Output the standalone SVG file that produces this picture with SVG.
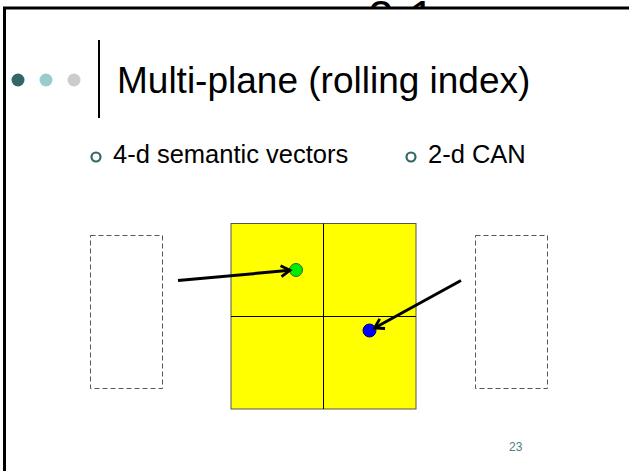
<svg xmlns="http://www.w3.org/2000/svg" width="629" height="471" viewBox="0 0 629 471">
<style>
text{font-family:"Liberation Sans",Arial,sans-serif;}
.dash{fill:none;stroke:#555;stroke-width:1;stroke-dasharray:5,3;}
.arrow{stroke:#000;stroke-width:3;fill:none;marker-end:url(#ah);}
.ring{fill:none;stroke:#336666;stroke-width:2.2;}
</style>
<defs>
<marker id="ah" markerWidth="14" markerHeight="14" refX="11" refY="7" orient="auto" markerUnits="userSpaceOnUse" viewBox="0 0 14 14">
<path d="M2,1.5 L11,7 L2,12.5" fill="none" stroke="#000" stroke-width="2.8"/>
</marker>
</defs>
<rect width="629" height="471" fill="#fff"/>
<text x="368" y="33" font-size="46">2-1</text>
<rect x="4.5" y="8" width="700" height="500" fill="#fff" stroke="#000" stroke-width="3"/>
<g id="header">
<circle cx="18" cy="80" r="6.5" fill="#336666"/>
<circle cx="46" cy="80" r="6.5" fill="#99cccc"/>
<circle cx="74" cy="80" r="6.5" fill="#cccccc"/>
<line x1="99" y1="40" x2="99" y2="118" stroke="#000" stroke-width="2"/>
<text x="117" y="93" font-size="37">Multi-plane (rolling index)</text>
</g>
<g id="bullet1">
<circle cx="96" cy="157" r="4.5" class="ring"/>
<text x="113" y="163" font-size="25.5">4-d semantic vectors</text>
</g>
<g id="bullet2">
<circle cx="411" cy="157" r="4.5" class="ring"/>
<text x="428" y="163" font-size="25.5">2-d CAN</text>
</g>
<g id="plane-left">
<rect x="90.5" y="235.5" width="72" height="153" class="dash"/>
</g>
<g id="plane-right">
<rect x="475.5" y="235.5" width="72" height="153" class="dash"/>
</g>
<g id="can">
<rect x="231" y="223.5" width="185" height="185.5" fill="#ffff00" stroke="#555" stroke-width="1"/>
<line x1="323.5" y1="223.5" x2="323.5" y2="409" stroke="#000" stroke-width="1"/>
<line x1="231" y1="316.5" x2="416" y2="316.5" stroke="#000" stroke-width="1"/>
</g>
<g id="point-green">
<circle cx="296" cy="270" r="6.5" fill="#00ee00" stroke="#336633" stroke-width="1"/>
</g>
<g id="point-blue">
<circle cx="369.5" cy="330.5" r="6.5" fill="#0000ff" stroke="#000066" stroke-width="1"/>
</g>
<g id="connectors">
<line x1="178" y1="280.5" x2="290" y2="270.3" class="arrow"/>
<line x1="461" y1="280.5" x2="374.5" y2="328" class="arrow"/>
</g>
<text x="509" y="451" font-size="12" fill="#4d7f7f">23</text>
</svg>
